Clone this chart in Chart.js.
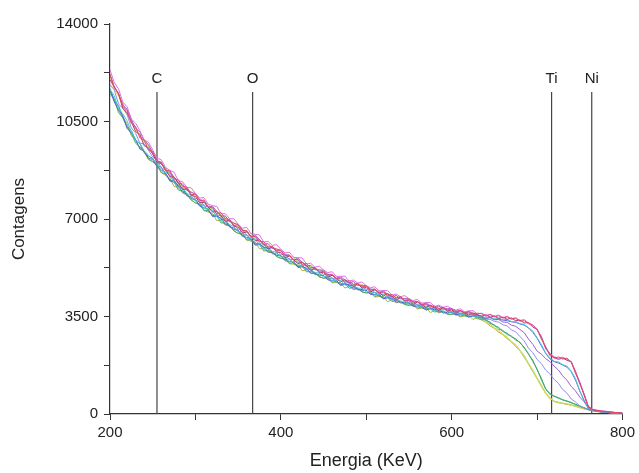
<!DOCTYPE html>
<html>
<head>
<meta charset="utf-8">
<script src="https://cdn.jsdelivr.net/npm/chart.js@4/dist/chart.umd.min.js"></script>
<style>
  html, body { margin: 0; padding: 0; background: #fff; }
  #wrap { width: 639px; height: 473px; position: relative; }
</style>
</head>
<body>
<div id="wrap"><canvas id="chart"></canvas></div>
<script>
// energy channels (KeV), one value every 5 KeV
const energia = [
  200, 205, 210, 215, 220, 225, 230, 235, 240, 245,
  250, 255, 260, 265, 270, 275, 280, 285, 290, 295,
  300, 305, 310, 315, 320, 325, 330, 335, 340, 345,
  350, 355, 360, 365, 370, 375, 380, 385, 390, 395,
  400, 405, 410, 415, 420, 425, 430, 435, 440, 445,
  450, 455, 460, 465, 470, 475, 480, 485, 490, 495,
  500, 505, 510, 515, 520, 525, 530, 535, 540, 545,
  550, 555, 560, 565, 570, 575, 580, 585, 590, 595,
  600, 605, 610, 615, 620, 625, 630, 635, 640, 645,
  650, 655, 660, 665, 670, 675, 680, 685, 690, 695,
  700, 705, 710, 715, 720, 725, 730, 735, 740, 745,
  750, 755, 760, 765, 770, 775, 780, 785, 790, 795,
  800,
];

// counts (one row = 50 KeV)
const sRed = [
  12200,11720,11510,11040,10890,10430,10320,9910,9830,9480,
  9420,9080,9050,8760,8720,8430,8410,8170,8150,7870,
  7890,7670,7680,7430,7420,7180,7230,7010,6980,6770,
  6790,6580,6580,6360,6380,6190,6190,5990,6020,5860,
  5870,5680,5700,5540,5560,5370,5400,5250,5260,5090,
  5120,4980,5010,4870,4880,4740,4790,4650,4680,4560,
  4590,4440,4480,4360,4390,4250,4290,4170,4210,4070,
  4120,4010,4040,3920,3960,3850,3880,3780,3830,3730,
  3770,3670,3720,3630,3670,3570,3620,3600,3510,3570,
  3480,3530,3440,3490,3400,3430,3330,3350,3240,3190,
  3020,2790,2340,2180,2000,2050,1970,2010,1850,1530,
  1080,720,240,150,120,110,80,75,55,45,
  30];
const sWine = [
  12000,11750,11500,10970,10810,10490,10140,10040,9630,9560,
  9330,9030,8990,8790,8520,8500,8300,8060,8090,7850,
  7810,7580,7600,7430,7250,7270,7120,6910,6970,6740,
  6710,6500,6530,6380,6220,6250,6100,5920,6010,5810,
  5800,5610,5670,5540,5400,5450,5330,5150,5250,5070,
  5080,4910,4980,4870,4740,4820,4720,4570,4690,4520,
  4540,4380,4460,4360,4240,4320,4230,4080,4210,4050,
  4080,3930,4020,3930,3820,3910,3830,3710,3830,3690,
  3740,3610,3710,3630,3550,3630,3570,3510,3560,3470,
  3520,3430,3480,3400,3450,3350,3370,3270,3280,3120,
  3040,2700,2400,2100,2030,1960,2010,1930,1870,1460,
  1120,680,260,160,130,100,95,70,60,40,
  30];
const sMagenta = [
  12350,11900,11670,11200,11030,10590,10440,10170,9830,9760,
  9480,9180,9130,8850,8750,8680,8370,8340,8130,8120,
  7920,7750,7770,7530,7480,7450,7190,7190,7010,7010,
  6820,6670,6700,6480,6450,6430,6170,6200,6050,6080,
  5910,5780,5810,5620,5610,5600,5390,5410,5270,5310,
  5170,5070,5110,4940,4940,4950,4770,4810,4700,4740,
  4610,4530,4570,4420,4430,4430,4270,4310,4210,4250,
  4140,4070,4110,3980,4000,4000,3860,3910,3830,3870,
  3780,3730,3780,3670,3700,3710,3590,3620,3540,3580,
  3510,3550,3460,3510,3420,3460,3360,3390,3270,3200,
  3060,2760,2420,2150,2060,2000,2040,1960,1890,1520,
  1150,730,290,170,140,110,100,80,60,45,
  35];
const sCyan = [
  11650,11430,10960,10780,10520,10130,9820,9720,9450,9290,
  9120,9050,8730,8690,8570,8310,8120,8110,7920,7840,
  7640,7630,7370,7370,7300,7080,6940,6960,6800,6730,
  6540,6550,6300,6320,6270,6060,5920,5970,5840,5800,
  5630,5660,5450,5480,5450,5270,5160,5200,5080,5060,
  4920,4960,4770,4810,4790,4640,4560,4620,4520,4510,
  4380,4430,4260,4310,4290,4150,4080,4140,4050,4050,
  3930,3990,3840,3890,3880,3750,3700,3760,3690,3700,
  3610,3670,3550,3600,3610,3500,3470,3520,3450,3490,
  3410,3450,3380,3400,3320,3320,3240,3220,3100,2980,
  2740,2500,2190,2020,1890,1870,1770,1720,1540,1270,
  840,510,220,140,110,90,70,60,50,40,
  30];
const sBlue = [
  11640,11200,10930,10710,10250,10090,9850,9510,9450,9190,
  9130,8880,8760,8660,8360,8330,8210,7960,7890,7730,
  7690,7460,7400,7360,7090,7100,7030,6810,6770,6620,
  6590,6380,6330,6310,6060,6080,6010,5820,5810,5690,
  5680,5500,5480,5470,5260,5280,5240,5060,5060,4960,
  4970,4810,4800,4810,4610,4660,4640,4490,4500,4420,
  4440,4290,4290,4310,4130,4170,4160,4020,4030,3970,
  3990,3860,3870,3890,3730,3780,3770,3660,3680,3620,
  3660,3550,3580,3600,3480,3520,3520,3480,3430,3470,
  3400,3410,3370,3350,3310,3290,3230,3190,3090,2930,
  2720,2450,2180,1980,1880,1830,1760,1680,1520,1220,
  820,480,200,130,100,80,70,55,45,35,
  25];
const sPurple = [
  12170,11750,11490,11090,10940,10580,10250,10130,9820,9670,
  9380,9110,9000,8740,8730,8500,8290,8260,8030,7960,
  7900,7690,7640,7420,7460,7270,7110,7110,6910,6850,
  6800,6610,6570,6370,6430,6250,6090,6120,5950,5920,
  5880,5720,5700,5520,5600,5440,5310,5340,5180,5170,
  5160,5010,5010,4850,4930,4810,4700,4760,4620,4620,
  4610,4480,4480,4340,4420,4300,4210,4260,4140,4140,
  4140,4020,4040,3910,3990,3890,3810,3870,3770,3780,
  3790,3690,3720,3610,3690,3610,3550,3510,3440,3460,
  3380,3390,3300,3290,3190,3150,3030,2920,2690,2500,
  2260,2150,1990,1880,1720,1580,1370,1210,990,830,
  610,440,240,150,110,90,70,55,40,30,
  25];
const sLavender = [
  11820,11630,11130,10970,10750,10270,10080,9720,9700,9470,
  9220,9130,8830,8760,8660,8380,8290,8050,8050,7910,
  7740,7710,7470,7440,7390,7150,7110,6900,6930,6800,
  6640,6630,6400,6390,6360,6130,6090,5910,5970,5870,
  5730,5740,5540,5550,5530,5330,5320,5150,5210,5130,
  5010,5030,4860,4880,4870,4700,4710,4570,4650,4570,
  4470,4500,4340,4370,4360,4210,4220,4090,4160,4100,
  4010,4050,3900,3940,3940,3800,3820,3710,3790,3740,
  3670,3710,3600,3640,3650,3530,3560,3470,3400,3400,
  3320,3300,3200,3160,3020,2950,2780,2620,2360,2200,
  1960,1810,1580,1440,1240,1100,880,750,540,430,
  290,220,150,130,100,80,60,50,40,30,
  25];
const sGreen = [
  11510,11270,10820,10630,10290,10080,9720,9590,9430,9150,
  9060,8970,8670,8620,8420,8340,8040,8010,7890,7680,
  7580,7550,7310,7300,7150,7110,6860,6860,6770,6570,
  6490,6480,6250,6260,6130,6100,5850,5880,5820,5650,
  5590,5600,5410,5430,5320,5310,5100,5120,5070,4920,
  4880,4910,4730,4770,4670,4690,4510,4550,4520,4380,
  4350,4390,4220,4270,4180,4200,4040,4070,4050,3930,
  3910,3950,3800,3850,3770,3800,3660,3700,3690,3580,
  3580,3630,3510,3560,3500,3530,3420,3400,3400,3250,
  3200,3050,3000,2850,2800,2650,2580,2360,2170,1880,
  1620,1230,920,700,650,560,520,450,420,330,
  290,210,170,130,100,80,60,50,40,30,
  25];
const sTeal = [
  11680,11260,11070,10660,10310,10170,9830,9700,9380,9260,
  9180,8910,8870,8600,8390,8380,8160,8120,7830,7790,
  7700,7490,7510,7280,7120,7150,6980,6970,6710,6680,
  6600,6410,6440,6230,6090,6130,5960,5980,5750,5750,
  5690,5530,5580,5400,5290,5330,5200,5210,5000,5020,
  4970,4840,4890,4740,4640,4700,4600,4630,4450,4470,
  4440,4320,4370,4240,4150,4210,4120,4150,3980,4010,
  3980,3880,3940,3820,3740,3800,3730,3770,3620,3660,
  3650,3560,3630,3530,3480,3540,3480,3440,3360,3300,
  3170,3110,2960,2900,2770,2700,2550,2400,2140,1930,
  1590,1280,890,740,630,590,500,470,400,350,
  280,230,160,130,100,80,60,50,40,30,
  25];
const sYellow = [
  12060,11640,11440,10990,10770,10520,10130,10010,9740,9630,
  9340,9070,9020,8710,8630,8510,8240,8210,8020,7990,
  7860,7650,7660,7390,7360,7280,7060,7060,6900,6880,
  6760,6570,6590,6340,6330,6260,6040,6070,5940,5950,
  5850,5680,5720,5500,5510,5450,5270,5290,5180,5200,
  5120,4980,5020,4830,4840,4820,4660,4710,4610,4640,
  4580,4440,4490,4320,4340,4310,4170,4210,4130,4160,
  4100,3980,4030,3880,3910,3890,3760,3820,3740,3780,
  3740,3640,3700,3560,3610,3590,3480,3430,3280,3220,
  3060,3000,2830,2760,2580,2480,2260,2080,1780,1570,
  1260,1030,730,570,450,420,370,360,310,290,
  220,190,150,120,90,75,60,50,40,30,
  20];
const sOlive = [
  11580,11310,10890,10660,10420,9990,9830,9540,9400,9140,
  9050,8930,8660,8570,8470,8170,8130,7930,7870,7690,
  7570,7510,7300,7250,7200,6940,6950,6780,6750,6580,
  6480,6440,6240,6210,6180,5930,5940,5800,5800,5660,
  5580,5560,5390,5380,5370,5140,5180,5040,5050,4930,
  4870,4870,4710,4720,4720,4520,4580,4470,4500,4390,
  4340,4350,4200,4220,4230,4030,4100,3990,4030,3930,
  3890,3910,3770,3800,3820,3640,3710,3630,3670,3590,
  3570,3590,3480,3520,3550,3390,3460,3370,3290,3160,
  3070,2940,2840,2700,2590,2420,2270,2030,1790,1520,
  1270,990,740,550,450,400,380,340,320,270,
  230,180,150,110,90,70,60,45,35,25,
  20];
const sLime = [
  12140,11680,11420,11170,10740,10560,10250,9970,9860,9630,
  9390,9080,8970,8860,8570,8520,8330,8140,8110,7960,
  7910,7660,7610,7540,7300,7290,7150,6990,6990,6850,
  6800,6580,6530,6480,6270,6260,6120,5990,6020,5910,
  5880,5680,5670,5630,5440,5460,5350,5220,5260,5160,
  5150,4980,4980,4950,4780,4820,4730,4640,4690,4610,
  4600,4450,4450,4430,4280,4310,4240,4140,4200,4130,
  4130,3990,4000,3990,3860,3890,3830,3760,3820,3760,
  3780,3660,3690,3680,3580,3610,3560,3450,3320,3230,
  3100,3010,2870,2760,2610,2490,2290,2100,1820,1590,
  1300,1050,770,590,470,430,390,370,330,300,
  240,200,160,120,90,75,60,50,40,30,
  20];

const series = [sRed, sWine, sMagenta, sCyan, sBlue, sPurple, sLavender, sGreen, sTeal, sYellow, sOlive, sLime];
const seriesColors = ['#e8486e', '#b04078', '#e070e0', '#48c8d8', '#5868dc', '#a060d0', '#9090ec', '#48b060', '#2c9098', '#e0dc50', '#b0b048', '#a0e080'];

// element edges
const markerLabels = ['C', 'O', 'Ti', 'Ni'];
const markerEnergy = [255, 367, 717, 764];
const markerTop = 11560;

// axis ticks
const xMin = 200, xMax = 800, xStep = 100, xLabelEvery = 200;
const yMin = 0, yMax = 14000, yStep = 1750, yLabelEvery = 3500;

const FONT = "'Liberation Sans', Arial, sans-serif";
const INK = '#222';

const datasets = series.map((vals, i) => ({
  data: energia.map((e, k) => ({ x: e, y: vals[k] })),
  borderColor: seriesColors[i],
  borderWidth: 1,
  pointRadius: 0,
  tension: 0,
  fill: false,
}));

markerEnergy.forEach((e) => {
  datasets.push({
    data: [{ x: e, y: 0 }, { x: e, y: markerTop }],
    borderColor: '#444',
    borderWidth: 1.2,
    pointRadius: 0,
    fill: false,
  });
});

const markerText = {
  id: 'markerText',
  afterDatasetsDraw(chart) {
    const { ctx, scales: { x, y } } = chart;
    ctx.save();
    ctx.fillStyle = INK;
    ctx.font = `15px ${FONT}`;
    ctx.textAlign = 'center';
    ctx.textBaseline = 'middle';
    markerEnergy.forEach((e, i) => {
      ctx.fillText(markerLabels[i], x.getPixelForValue(e), y.getPixelForValue(markerTop) - 13);
    });
    ctx.restore();
  },
};

new Chart(document.getElementById('chart'), {
  type: 'line',
  data: { datasets },
  plugins: [markerText],
  options: {
    responsive: true,
    maintainAspectRatio: false,
    animation: false,
    layout: { padding: { top: 24, right: 12, left: 0, bottom: 0 } },
    plugins: { legend: { display: false }, tooltip: { enabled: false } },
    scales: {
      x: {
        type: 'linear',
        min: xMin,
        max: xMax,
        afterFit(scale) { scale.height = 59; },
        grid: { drawOnChartArea: false, tickLength: 6, color: '#333' },
        border: { color: '#333', width: 1.2 },
        ticks: {
          stepSize: xStep,
          autoSkip: false,
          maxRotation: 0,
          padding: 4,
          color: INK,
          font: { family: FONT, size: 15 },
          callback: (v) => (v % xLabelEvery === 0 ? v : ''),
        },
        title: {
          display: true,
          text: 'Energia (KeV)',
          color: INK,
          font: { family: FONT, size: 18 },
          padding: { top: 0, bottom: 1 },
        },
      },
      y: {
        min: yMin,
        max: yMax,
        afterFit(scale) { scale.width = 110; },
        grid: { drawOnChartArea: false, tickLength: 6, color: '#333' },
        border: { color: '#333', width: 1.2 },
        ticks: {
          stepSize: yStep,
          autoSkip: false,
          padding: 6,
          color: INK,
          font: { family: FONT, size: 15 },
          callback: (v) => (v % yLabelEvery === 0 ? v : ''),
        },
        title: {
          display: true,
          text: 'Contagens',
          color: INK,
          font: { family: FONT, size: 17 },
          padding: { top: 9, bottom: 0 },
        },
      },
    },
  },
});
</script>
</body>
</html>
